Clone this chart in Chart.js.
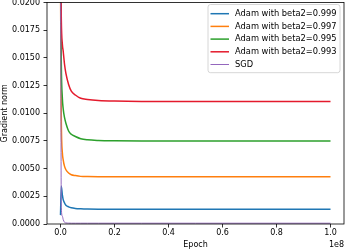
<!DOCTYPE html>
<html>
<head>
<meta charset="utf-8">
<script src="https://cdn.jsdelivr.net/npm/chart.js@4/dist/chart.umd.min.js"></script>
<style>
html,body{margin:0;padding:0;background:#fff;}
#wrap{width:346px;height:250px;}
</style>
</head>
<body>
<div id="wrap"><canvas id="c" width="346" height="250"></canvas></div>
<script>
// epochs in units of 1e6
const epochsM = [0, 0.3, 0.7, 1.0, 1.5, 2.0, 3.0, 4.0, 5.5, 7.5, 10, 14, 20, 30, 50, 75, 100];
const blueVals   = [0.0008, 0.0034, 0.0026, 0.0022, 0.0019, 0.0017, 0.00155, 0.00146, 0.0014, 0.00137, 0.00135, 0.00134, 0.00134, 0.00133, 0.00133, 0.00133, 0.00133];
const orangeVals = [0.022, 0.0095, 0.0064, 0.0058, 0.0052, 0.0049, 0.0046, 0.00445, 0.00437, 0.0043, 0.00428, 0.00427, 0.00427, 0.00427, 0.00427, 0.00427, 0.00427];
const greenVals  = [0.024, 0.0145, 0.0113, 0.0104, 0.0096, 0.0091, 0.0084, 0.0081, 0.0079, 0.0077, 0.0076, 0.00754, 0.00751, 0.0075, 0.0075, 0.0075, 0.0075];
const redVals    = [0.026, 0.0185, 0.0162, 0.0156, 0.0144, 0.0136, 0.0126, 0.0120, 0.01165, 0.01135, 0.01125, 0.01116, 0.0111, 0.01106, 0.01105, 0.01105, 0.01105];
const sgdVals    = [0.03, 0.0015, 0.0007, 0.0004, 0.00015, 0.0001, 0.00008, 0.00007, 0.00007, 0.00007, 0.00007, 0.00007, 0.00007, 0.00007, 0.00007, 0.00007, 0.00007];
const seriesLabels = ['Adam with beta2=0.999', 'Adam with beta2=0.997', 'Adam with beta2=0.995', 'Adam with beta2=0.993', 'SGD'];
const seriesColors = ['#1f77b4', '#ff7f0e', '#2ca02c', '#e41a2c', '#9467bd'];
const seriesWidths = [1.5, 1.5, 1.5, 1.5, 1.0];
const xTickValues = [0, 20e6, 40e6, 60e6, 80e6, 100e6];
const yTickValues = [0, 0.0025, 0.005, 0.0075, 0.01, 0.0125, 0.015, 0.0175, 0.02];
const xOffsetText = '1e8';

const allVals = [blueVals, orangeVals, greenVals, redVals, sgdVals];
const FONT = 'DejaVu Sans';

const datasets = allVals.map((vals, i) => ({
  label: seriesLabels[i],
  data: epochsM.map((e, j) => ({x: e * 1e6, y: vals[j]})),
  borderColor: seriesColors[i],
  backgroundColor: seriesColors[i],
  borderWidth: seriesWidths[i],
  pointRadius: 0,
  fill: false,
  order: allVals.length - i,
  cubicInterpolationMode: 'monotone'
}));

const framePlugin = {
  id: 'frame',
  afterDatasetsDraw(chart) {
    const {ctx, chartArea: a} = chart;
    ctx.save();
    ctx.strokeStyle = '#000';
    ctx.lineWidth = 0.8;
    ctx.strokeRect(a.left, a.top, a.right - a.left, a.bottom - a.top);
    ctx.restore();
  },
  afterDraw(chart) {
    const {ctx, chartArea: a} = chart;
    ctx.save();
    ctx.font = '8px "' + FONT + '"';
    ctx.fillStyle = '#000';
    ctx.textAlign = 'right';
    ctx.textBaseline = 'middle';
    ctx.fillText(xOffsetText, a.right, 245);
    const bx = 208, by = 4.5, bw = 132, bh = 68.2, r = 2.5;
    ctx.beginPath();
    ctx.moveTo(bx + r, by);
    ctx.lineTo(bx + bw - r, by);
    ctx.quadraticCurveTo(bx + bw, by, bx + bw, by + r);
    ctx.lineTo(bx + bw, by + bh - r);
    ctx.quadraticCurveTo(bx + bw, by + bh, bx + bw - r, by + bh);
    ctx.lineTo(bx + r, by + bh);
    ctx.quadraticCurveTo(bx, by + bh, bx, by + bh - r);
    ctx.lineTo(bx, by + r);
    ctx.quadraticCurveTo(bx, by, bx + r, by);
    ctx.closePath();
    ctx.fillStyle = 'rgba(255,255,255,0.8)';
    ctx.fill();
    ctx.strokeStyle = '#cccccc';
    ctx.lineWidth = 0.8;
    ctx.stroke();
    chart.data.datasets.forEach((ds, i) => {
      const y = 13.7 + i * 12.7;
      ctx.beginPath();
      ctx.moveTo(210.5, y);
      ctx.lineTo(229, y);
      ctx.strokeStyle = ds.borderColor;
      ctx.lineWidth = ds.borderWidth;
      ctx.stroke();
      ctx.fillStyle = '#000';
      ctx.textAlign = 'left';
      ctx.textBaseline = 'middle';
      ctx.font = '8.3px "' + FONT + '"';
      ctx.fillText(ds.label, 235, y);
    });
    ctx.restore();
  }
};

new Chart(document.getElementById('c'), {
  type: 'line',
  data: {datasets},
  plugins: [framePlugin],
  options: {
    responsive: false,
    animation: false,
    devicePixelRatio: 1,
    layout: {padding: {left: 0, right: 2, top: 2.5, bottom: 0}},
    plugins: {legend: {display: false}, tooltip: {enabled: false}},
    elements: {line: {borderCapStyle: 'butt'}},
    scales: {
      x: {
        type: 'linear',
        min: -5e6,
        max: 105e6,
        afterBuildTicks(scale) { scale.ticks = xTickValues.map(v => ({value: v})); },
        afterFit(scale) { scale.height = 26; scale.paddingLeft = 0; scale.paddingRight = 0; },
        ticks: {
          color: '#000',
          font: {family: FONT, size: 8},
          padding: 1,
          maxRotation: 0,
          autoSkip: false,
          callback: v => (v / 1e8).toFixed(1)
        },
        grid: {drawOnChartArea: false, drawTicks: true, tickLength: 3.5, color: '#000', tickWidth: 0.8},
        border: {display: false},
        title: {display: true, text: 'Epoch', color: '#000', font: {family: FONT, size: 8}, padding: {top: 0, bottom: 0}}
      },
      y: {
        type: 'linear',
        min: 0,
        max: 0.02,
        afterBuildTicks(scale) { scale.ticks = yTickValues.map(v => ({value: v})); },
        afterFit(scale) { scale.width = 47; scale.paddingTop = 0; scale.paddingBottom = 0; },
        ticks: {
          color: '#000',
          font: {family: FONT, size: 8},
          padding: 3.5,
          autoSkip: false,
          callback: v => Number(v).toFixed(4)
        },
        grid: {drawOnChartArea: false, drawTicks: true, tickLength: 3.5, color: '#000', tickWidth: 0.8},
        border: {display: false},
        title: {display: true, text: 'Gradient norm', color: '#000', font: {family: FONT, size: 8}, padding: {top: 0, bottom: 0}}
      }
    }
  }
});
</script>
</body>
</html>
